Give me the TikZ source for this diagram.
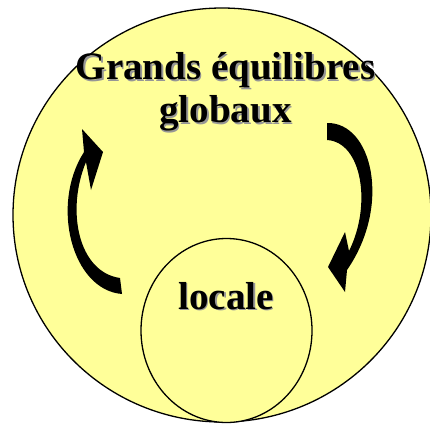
\documentclass[tikz,border=0pt]{standalone}
\usepackage{fontspec}
\setmainfont{Liberation Serif}
\usetikzlibrary{positioning}
\definecolor{paleyellow}{RGB}{255,255,153}
\definecolor{shadowgray}{RGB}{150,150,150}
\newcommand{\shadowed}[1]{\makebox[0pt][l]{\hspace{1.6pt}\raisebox{-1.6pt}{\textcolor{shadowgray}{#1}}}#1}

\begin{document}
\begin{tikzpicture}[
    x=1pt, y=-1pt,
    circleline/.style={draw, line width=1.3pt, fill=paleyellow},
    title/.style={align=center, inner sep=0pt, font=\fontsize{39}{43}\selectfont\bfseries},
    bigarrow/.style={fill=black, draw=none}
]
\useasboundingbox (0,0) rectangle (430,423);
\draw[circleline] (222,215) ellipse [x radius=209, y radius=207];
\draw[circleline] (226.5,330.5) ellipse [x radius=85.5, y radius=92];
\node[title] (global) at (225.5,93) {\shadowed{Grands équilibres}\\\shadowed{globaux}};
\node[title, anchor=base] (local) at (226,309) {\shadowed{locale}};
% left arrow, going up
\fill[bigarrow] (122,294) .. controls (72,290) and (50,205) .. (84,152) -- (82,129) -- (103,152) -- (91,190) -- (86,162) .. controls (66,210) and (78,272) .. (120,278) -- cycle;
% right arrow, going down
\fill[bigarrow] (327,123) .. controls (372,122) and (392,205) .. (347,270) -- (345,292) -- (328,267) -- (345,232) -- (349,251) .. controls (372,205) and (362,142) .. (327,140) -- cycle;
\end{tikzpicture}
\end{document}
